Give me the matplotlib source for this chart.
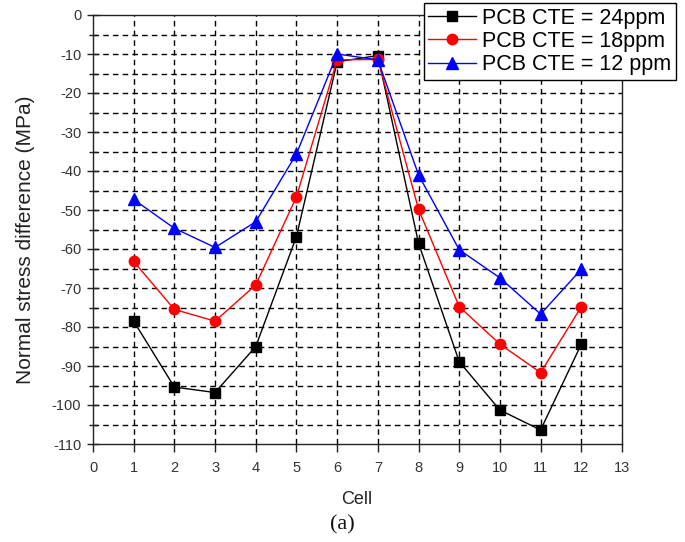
import matplotlib
matplotlib.use("Agg")
import matplotlib.pyplot as plt
from matplotlib.ticker import MultipleLocator

cells = [1, 2, 3, 4, 5, 6, 7, 8, 9, 10, 11, 12]
cte24 = [-78.5, -95.4, -96.8, -85.0, -56.8, -12.0, -10.4, -58.5, -88.9, -101.3, -106.4, -84.4]
cte18 = [-63.2, -75.5, -78.5, -69.2, -46.6, -11.5, -11.4, -49.8, -74.8, -84.4, -91.7, -74.8]
cte12 = [-47.3, -54.7, -59.6, -53.0, -35.6, -10.0, -11.5, -41.0, -60.2, -67.4, -76.7, -65.2]
labels = ["PCB CTE = 24ppm", "PCB CTE = 18ppm", "PCB CTE = 12 ppm"]

plt.rcParams['font.family'] = ['Liberation Sans', 'DejaVu Sans']
plt.rcParams['axes.unicode_minus'] = False

fig = plt.figure(figsize=(6.85, 5.42), dpi=100)
ax = fig.add_axes([93/685, 1-444/542, (622-93)/685, (444-15)/542])

ax.plot(cells, cte24, color='black', marker='s', ms=6.5, lw=1, label=labels[0], zorder=3)
ax.plot(cells, cte18, color='red', marker='o', ms=7.5, lw=1, label=labels[1], zorder=3)
ax.plot(cells, cte12, color='blue', marker='^', ms=8.5, lw=1, label=labels[2], zorder=3)

ax.set_xlim(0, 13)
ax.set_ylim(-110, 0)
ax.xaxis.set_major_locator(MultipleLocator(1))
ax.yaxis.set_major_locator(MultipleLocator(10))
ax.yaxis.set_minor_locator(MultipleLocator(5))

for x in range(1, 13):
    ax.axvline(x, color='black', lw=1, ls=(0, (4, 3)), zorder=1)
for y in range(-105, 0, 5):
    ax.axhline(y, color='black', lw=1, ls=(0, (4, 3)), zorder=1)

for s in ax.spines.values():
    s.set_linewidth(1)
    s.set_color('#222222')

ax.tick_params(axis='both', which='major', direction='inout', length=9, width=1,
               labelsize=10.5, labelcolor='#333333', color='#222222')
ax.tick_params(axis='both', which='minor', direction='inout', length=6, width=1, color='#222222')
ax.tick_params(axis='x', which='major', direction='out', length=6, pad=6)
ax.tick_params(axis='y', which='major', pad=4)

ax.set_xlabel("Cell", fontsize=13, color='#222222')
ax.xaxis.set_label_coords((357-93)/529, -(491-444)/429)
ax.set_ylabel("Normal stress difference (MPa)", fontsize=15, color='#222222')
ax.yaxis.set_label_coords((35-93)/529, (444-240)/429)

leg = fig.legend(loc='upper right', bbox_to_anchor=(676/685, 1-3/542), fontsize=15.5,
                 frameon=True, fancybox=False, edgecolor='black', framealpha=1,
                 handlelength=2.2, borderpad=0.22, labelspacing=0.1, handletextpad=0.3,
                 borderaxespad=0)
leg.get_frame().set_linewidth(1)

fig.text(342/685, 1-525/542, "(a)", fontsize=16, family=['Liberation Serif', 'DejaVu Serif'],
         ha='center', va='center', color='#111111')

fig.savefig("out.png", dpi=100)
